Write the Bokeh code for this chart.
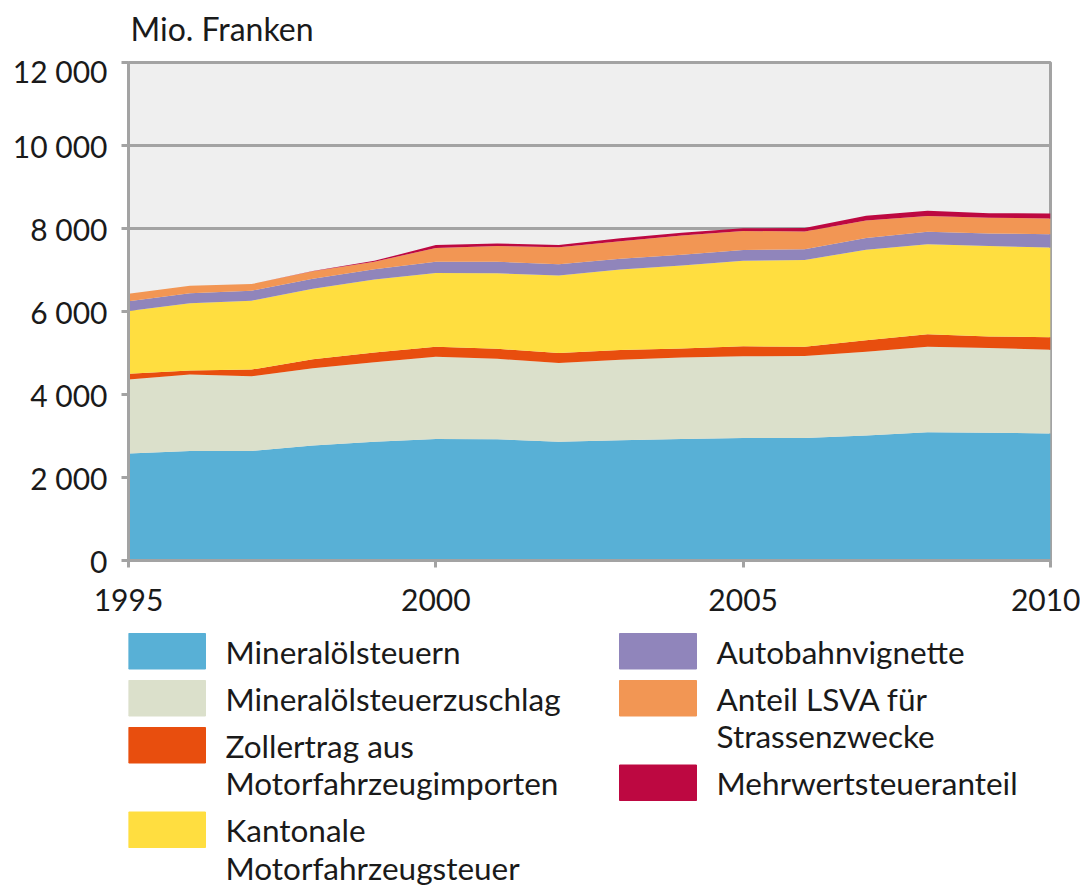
from bokeh.plotting import figure
from bokeh.models import ColumnDataSource, Range1d, FixedTicker
from bokeh.layouts import column
from bokeh.core.properties import value
from bokeh.embed import file_html
from bokeh.resources import INLINE

# ---------------- data (Mio. Franken) ----------------
years = list(range(1995, 2011))
mineraloelsteuern = [2580, 2640, 2640, 2770, 2860, 2930, 2920, 2860, 2900, 2930, 2950, 2950, 3010, 3090, 3080, 3060]
mineraloelsteuerzuschlag = [1780, 1840, 1800, 1860, 1920, 1980, 1940, 1900, 1940, 1960, 1970, 1980, 2020, 2060, 2040, 2020]
zollertrag = [140, 100, 160, 220, 230, 240, 240, 240, 230, 220, 240, 220, 280, 300, 280, 300]
kantonale_mfz_steuer = [1510, 1620, 1660, 1700, 1760, 1780, 1820, 1870, 1940, 2000, 2060, 2090, 2180, 2170, 2180, 2160]
autobahnvignette = [240, 240, 240, 240, 250, 270, 280, 270, 260, 260, 260, 260, 280, 300, 300, 320]
anteil_lsva = [180, 180, 160, 180, 180, 330, 380, 410, 420, 460, 460, 430, 420, 380, 380, 380]
mehrwertsteueranteil = [0, 0, 0, 5, 20, 70, 60, 50, 75, 70, 65, 80, 120, 130, 110, 120]

series_keys = ["mst", "mstz", "zoll", "kant", "vign", "lsva", "mwst"]
series_values = [mineraloelsteuern, mineraloelsteuerzuschlag, zollertrag, kantonale_mfz_steuer,
                 autobahnvignette, anteil_lsva, mehrwertsteueranteil]
series_labels = ["Mineralölsteuern", "Mineralölsteuerzuschlag", "Zollertrag aus\nMotorfahrzeugimporten",
                 "Kantonale\nMotorfahrzeugsteuer", "Autobahnvignette", "Anteil LSVA für\nStrassenzwecke",
                 "Mehrwertsteueranteil"]
series_colors = ["#58b0d6", "#dbe0cb", "#e84e0e", "#ffde40", "#9085bb", "#f29654", "#bd0841"]
legend_columns = [[0, 1, 2, 3], [4, 5, 6]]

y_ticks = [0, 2000, 4000, 6000, 8000, 10000, 12000]
y_tick_labels = ["0", "2 000", "4 000", "6 000", "8 000", "10 000", "12 000"]
x_ticks = [1995, 2000, 2005, 2010]
unit_label = "Mio. Franken"

FONT = "Lato"
FSIZE = "30px"
LEG_FSIZE = "31.5px"
TXT = "#1a1a1a"
GRID = "#a3a3a3"

W = 1080
BL, BR, BB = 128, 30, 70
HEAD_H = 52          # header strip holding the unit label
FRAME_TOP = 62
FRAME_H = 498
MAIN_H = (FRAME_TOP - HEAD_H) + FRAME_H + BB
LEG_TOP = FRAME_TOP + FRAME_H + BB
LEG_H = 886 - LEG_TOP


def blank_strip(height, y0, y1):
    f = figure(width=W, height=height, x_range=Range1d(BL, W - BR), y_range=Range1d(y1, y0),
               output_backend="svg", toolbar_location=None, x_axis_location=None, y_axis_location=None,
               min_border_left=BL, min_border_right=BR, min_border_top=0, min_border_bottom=0)
    f.outline_line_color = None
    f.background_fill_color = "white"
    f.border_fill_color = "white"
    f.xgrid.visible = False
    f.ygrid.visible = False
    return f


# ---------------- header (unit label) ----------------
hd = blank_strip(HEAD_H, 0, HEAD_H)
hd.text(x=[130], y=[28], text=[unit_label], text_font=value(FONT), text_font_size="32px",
        text_color=TXT, text_baseline="alphabetic", text_align="left")

# ---------------- main chart ----------------
data = {"year": years}
for k, v in zip(series_keys, series_values):
    data[k] = v
src = ColumnDataSource(data)

p = figure(width=W, height=MAIN_H, x_range=Range1d(1995, 2010), y_range=Range1d(0, 12000),
           output_backend="svg", toolbar_location=None,
           min_border_left=BL, min_border_right=BR, min_border_top=FRAME_TOP - HEAD_H, min_border_bottom=BB)
p.background_fill_color = "#efefef"
p.border_fill_color = "white"
p.outline_line_color = GRID
p.outline_line_width = 3

p.varea_stack(stackers=series_keys, x="year", color=series_colors, source=src)

p.xgrid.visible = False
p.ygrid.ticker = FixedTicker(ticks=y_ticks)
p.ygrid.grid_line_color = GRID
p.ygrid.grid_line_width = 3

for ax in (p.xaxis[0], p.yaxis[0]):
    ax.axis_line_color = GRID
    ax.axis_line_width = 3
    ax.major_tick_line_color = GRID
    ax.major_tick_line_width = 3
    ax.major_tick_in = 0
    ax.major_tick_out = 7
    ax.minor_tick_line_color = None
    ax.major_label_text_font = FONT
    ax.major_label_text_font_size = FSIZE
    ax.major_label_text_color = TXT

p.yaxis.ticker = FixedTicker(ticks=y_ticks)
p.yaxis.major_label_overrides = {t: l for t, l in zip(y_ticks, y_tick_labels)}
p.yaxis.major_label_standoff = 14
p.xaxis.ticker = FixedTicker(ticks=x_ticks)
p.xaxis.major_label_overrides = {t: str(t) for t in x_ticks}
p.xaxis.major_label_standoff = 21

# ---------------- legend (page pixel coordinates) ----------------
lg = blank_strip(LEG_H, LEG_TOP, 886)

col_x = [128, 619]
top0 = 633
sw_w, sw_h = 77, 35.5
step, line_h = 47, 37.5
q = {"l": [], "r": [], "t": [], "b": [], "c": []}
t = {"x": [], "y": [], "s": []}
for ci, idxs in enumerate(legend_columns):
    top = top0
    for i in idxs:
        q["l"].append(col_x[ci]); q["r"].append(col_x[ci] + sw_w)
        q["t"].append(top); q["b"].append(top + sw_h); q["c"].append(series_colors[i])
        lines = series_labels[i].split("\n")
        for li, line in enumerate(lines):
            t["x"].append(col_x[ci] + 97)
            t["y"].append(top + 18 + li * line_h)
            t["s"].append(line)
        top += step + (len(lines) - 1) * line_h

lg.quad(left="l", right="r", top="t", bottom="b", color="c", source=ColumnDataSource(q))
lg.text(x="x", y="y", text="s", source=ColumnDataSource(t), text_font=value(FONT),
        text_font_size=LEG_FSIZE, text_color=TXT, text_baseline="alphabetic", text_align="left")

layout = column(hd, p, lg, spacing=0)
open("out.html", "w").write(file_html(layout, INLINE))
